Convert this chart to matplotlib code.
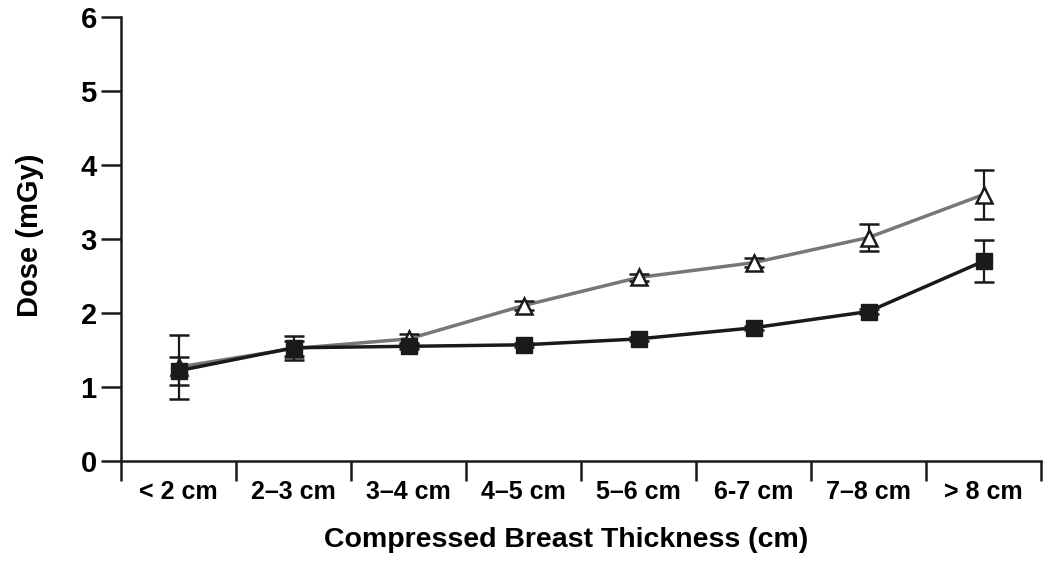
import numpy as np
from matplotlib import pyplot as plt

plt.rcParams['font.family'] = ['Liberation Sans', 'DejaVu Sans']
plt.rcParams['font.weight'] = 'bold'

# categories and dose values (mGy)
cats = ['< 2 cm', '2–3 cm', '3–4 cm', '4–5 cm', '5–6 cm', '6-7 cm', '7–8 cm', '> 8 cm']
tri = [1.27, 1.52, 1.65, 2.10, 2.48, 2.68, 3.02, 3.60]
tri_err = [0.43, 0.10, 0.07, 0.06, 0.05, 0.06, 0.18, 0.33]
sq = [1.22, 1.53, 1.55, 1.57, 1.65, 1.80, 2.02, 2.70]
sq_err = [0.19, 0.16, 0.04, 0.03, 0.03, 0.03, 0.03, 0.28]

x = np.arange(len(cats))

fig = plt.figure(figsize=(10.5, 5.7), dpi=100)
ax = fig.add_axes([121/1050, 1-461/570, 920/1050, 444/570])

ax.plot(x, tri, color='#777777', lw=2.5, zorder=2)
ax.errorbar(x, tri, yerr=tri_err, fmt='none', ecolor='#1a1a1a', elinewidth=1.6,
            capsize=7, capthick=1.8, zorder=3)
ax.plot(x, tri, ls='none', marker='^', ms=11, mfc='white', mec='#1a1a1a', mew=1.8, zorder=4)

ax.plot(x, sq, color='#1a1a1a', lw=2.5, zorder=5)
ax.errorbar(x, sq, yerr=sq_err, fmt='none', ecolor='#1a1a1a', elinewidth=1.6,
            capsize=7, capthick=1.8, zorder=6)
ax.plot(x, sq, ls='none', marker='s', ms=11, mfc='#1a1a1a', mec='#1a1a1a', zorder=7)

ax.set_xlim(-0.5, 7.5)
ax.set_ylim(0, 6)
for s in ['top', 'right']:
    ax.spines[s].set_visible(False)
for s in ['left', 'bottom']:
    ax.spines[s].set_linewidth(1.8)
    ax.spines[s].set_color('#1a1a1a')
    ax.spines[s].set_clip_on(False)

ax.set_yticks(range(7))
ax.set_xticks(np.arange(-0.5, 8, 1))
ax.set_xticklabels([])
ax.set_xticks(x, minor=True)
ax.set_xticklabels(cats, minor=True)
ax.tick_params(axis='x', which='major', length=14.5, width=1.8, color='#1a1a1a')
ax.tick_params(axis='x', which='minor', length=0, pad=14, labelsize=18)
ax.tick_params(axis='y', length=14.5, width=1.8, color='#1a1a1a', pad=3, labelsize=21)

ax.set_xlabel('Compressed Breast Thickness (cm)', fontsize=20.5, fontweight='bold')
ax.xaxis.set_label_coords(0.484, -0.148)
ax.set_ylabel('Dose (mGy)', fontsize=21, fontweight='bold')
ax.yaxis.set_label_coords(-0.084, 0.509)

fig.savefig('out.png', dpi=100)
